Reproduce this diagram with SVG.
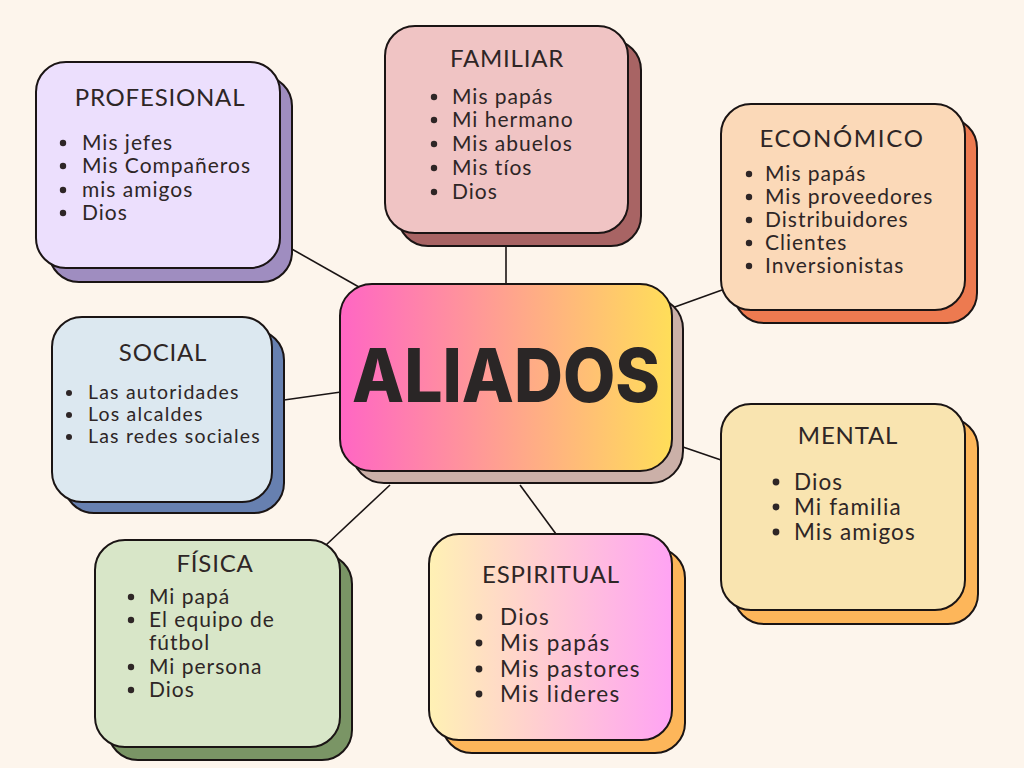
<svg xmlns="http://www.w3.org/2000/svg" width="1024" height="768" viewBox="0 0 1024 768">
<defs>
<linearGradient id="gCenter" x1="0" y1="0" x2="1" y2="0">
<stop offset="0" stop-color="#ff66c4"/><stop offset="1" stop-color="#ffde59"/>
</linearGradient>
<linearGradient id="gEsp" x1="0" y1="0" x2="1" y2="0">
<stop offset="0" stop-color="#fff1b4"/><stop offset="1" stop-color="#ffa3f3"/>
</linearGradient>
<style>
.sh{stroke:#1a1414;stroke-width:2}
.fr{stroke:#1a1414;stroke-width:2}
.t{font-family:Lato,"Liberation Sans",sans-serif;fill:#2e2626;font-weight:400}
.ti{font-size:24px;text-anchor:middle;letter-spacing:0.8px}
.it{font-size:21px;letter-spacing:1px}
.b{fill:#2e2626}
.c{stroke:#1a1414;stroke-width:1.6;fill:none}
</style>
</defs>
<rect width="1024" height="768" fill="#fdf5ec"/>
<g id="connectors">
<line class="c" x1="290" y1="248" x2="366" y2="291"/>
<line class="c" x1="506" y1="246" x2="506" y2="285"/>
<line class="c" x1="672" y1="308" x2="722" y2="290"/>
<line class="c" x1="284" y1="400" x2="341" y2="392"/>
<line class="c" x1="683" y1="447" x2="721" y2="460"/>
<line class="c" x1="326" y1="545" x2="390" y2="485"/>
<line class="c" x1="520" y1="485" x2="556" y2="534"/>
</g>
<g id="profesional">
<rect class="sh" x="49" y="76" width="243" height="206" rx="30" fill="#9f8dc0"/>
<rect class="fr" x="36" y="62" width="244" height="206" rx="30" fill="#ecdffd"/>
<text class="t ti" x="160" y="106">PROFESIONAL</text>
<g class="b"><circle cx="63" cy="143" r="3.2"/><circle cx="63" cy="166" r="3.2"/><circle cx="63" cy="190" r="3.2"/><circle cx="63" cy="213" r="3.2"/></g>
<text class="t it" x="82" y="150">Mis jefes</text>
<text class="t it" x="82" y="173">Mis Compañeros</text>
<text class="t it" x="82" y="197">mis amigos</text>
<text class="t it" x="82" y="220">Dios</text>
</g>
<g id="familiar">
<rect class="sh" x="398" y="40" width="243" height="206" rx="30" fill="#a86464"/>
<rect class="fr" x="385" y="26" width="243" height="207" rx="30" fill="#f0c4c4"/>
<text class="t ti" x="507" y="67">FAMILIAR</text>
<g class="b"><circle cx="434" cy="97" r="3.2"/><circle cx="434" cy="120" r="3.2"/><circle cx="434" cy="144" r="3.2"/><circle cx="434" cy="168" r="3.2"/><circle cx="434" cy="192" r="3.2"/></g>
<text class="t it" x="452" y="104">Mis papás</text>
<text class="t it" x="452" y="127">Mi hermano</text>
<text class="t it" x="452" y="151">Mis abuelos</text>
<text class="t it" x="452" y="175">Mis tíos</text>
<text class="t it" x="452" y="199">Dios</text>
</g>
<g id="economico">
<rect class="sh" x="734" y="118" width="243" height="205" rx="30" fill="#ed7a50"/>
<rect class="fr" x="721" y="104" width="244" height="206" rx="30" fill="#fbd9b8"/>
<text class="t ti" style="letter-spacing:1.7px" x="842" y="147">ECONÓMICO</text>
<g class="b"><circle cx="749" cy="174" r="3.2"/><circle cx="749" cy="197" r="3.2"/><circle cx="749" cy="220" r="3.2"/><circle cx="749" cy="243" r="3.2"/><circle cx="749" cy="266" r="3.2"/></g>
<text class="t it" x="765" y="181">Mis papás</text>
<text class="t it" x="765" y="204">Mis proveedores</text>
<text class="t it" x="765" y="227">Distribuidores</text>
<text class="t it" x="765" y="250">Clientes</text>
<text class="t it" x="765" y="273">Inversionistas</text>
</g>
<g id="social">
<rect class="sh" x="64" y="330" width="220" height="183" rx="30" fill="#6780b0"/>
<rect class="fr" x="52" y="317" width="220" height="185" rx="30" fill="#dce8f0"/>
<text class="t ti" x="163" y="361">SOCIAL</text>
<g class="b"><circle cx="69" cy="393" r="3"/><circle cx="69" cy="415" r="3"/><circle cx="69" cy="437" r="3"/></g>
<text class="t it" style="font-size:19.5px;letter-spacing:1.2px" x="88" y="399">Las autoridades</text>
<text class="t it" style="font-size:19.5px;letter-spacing:1.2px" x="88" y="421">Los alcaldes</text>
<text class="t it" style="font-size:19.5px;letter-spacing:1.2px" x="88" y="443">Las redes sociales</text>
</g>
<g id="aliados">
<rect class="sh" x="352" y="297" width="331" height="186" rx="32" fill="#cbb0a8"/>
<rect class="fr" x="340" y="284" width="332" height="187" rx="32" fill="url(#gCenter)"/>
<text x="506" y="402" text-anchor="middle" font-family="Inter,'Liberation Sans',sans-serif" font-weight="800" font-size="74" fill="#2a2626" textLength="308" lengthAdjust="spacingAndGlyphs">ALIADOS</text>
</g>
<g id="mental">
<rect class="sh" x="734" y="418" width="244" height="206" rx="30" fill="#fdb65a"/>
<rect class="fr" x="721" y="404" width="244" height="206" rx="30" fill="#f9e4b0"/>
<text class="t ti" x="848" y="444">MENTAL</text>
<g class="b"><circle cx="776" cy="482" r="3.4"/><circle cx="776" cy="507" r="3.4"/><circle cx="776" cy="532" r="3.4"/></g>
<text class="t it" style="font-size:22.5px;letter-spacing:1.1px" x="794" y="490">Dios</text>
<text class="t it" style="font-size:22.5px;letter-spacing:1.1px" x="794" y="515">Mi familia</text>
<text class="t it" style="font-size:22.5px;letter-spacing:1.1px" x="794" y="540">Mis amigos</text>
</g>
<g id="fisica">
<rect class="sh" x="108" y="554" width="244" height="206" rx="30" fill="#7a9565"/>
<rect class="fr" x="95" y="540" width="245" height="207" rx="30" fill="#d8e6c8"/>
<text class="t ti" x="215" y="572">FÍSICA</text>
<g class="b"><circle cx="131" cy="597" r="3.2"/><circle cx="131" cy="620" r="3.2"/><circle cx="131" cy="667" r="3.2"/><circle cx="131" cy="690" r="3.2"/></g>
<text class="t it" x="149" y="604">Mi papá</text>
<text class="t it" x="149" y="627">El equipo de</text>
<text class="t it" x="149" y="650">fútbol</text>
<text class="t it" x="149" y="674">Mi persona</text>
<text class="t it" x="149" y="697">Dios</text>
</g>
<g id="espiritual">
<rect class="sh" x="442" y="548" width="243" height="205" rx="30" fill="#fdb65a"/>
<rect class="fr" x="429" y="534" width="243" height="206" rx="30" fill="url(#gEsp)"/>
<text class="t ti" x="551" y="583">ESPIRITUAL</text>
<g class="b"><circle cx="479" cy="617" r="3.4"/><circle cx="479" cy="643" r="3.4"/><circle cx="479" cy="669" r="3.4"/><circle cx="479" cy="694" r="3.4"/></g>
<text class="t it" style="font-size:22.5px;letter-spacing:1.3px" x="500" y="625">Dios</text>
<text class="t it" style="font-size:22.5px;letter-spacing:1.3px" x="500" y="651">Mis papás</text>
<text class="t it" style="font-size:22.5px;letter-spacing:1.3px" x="500" y="677">Mis pastores</text>
<text class="t it" style="font-size:22.5px;letter-spacing:1.3px" x="500" y="702">Mis lideres</text>
</g>
</svg>
